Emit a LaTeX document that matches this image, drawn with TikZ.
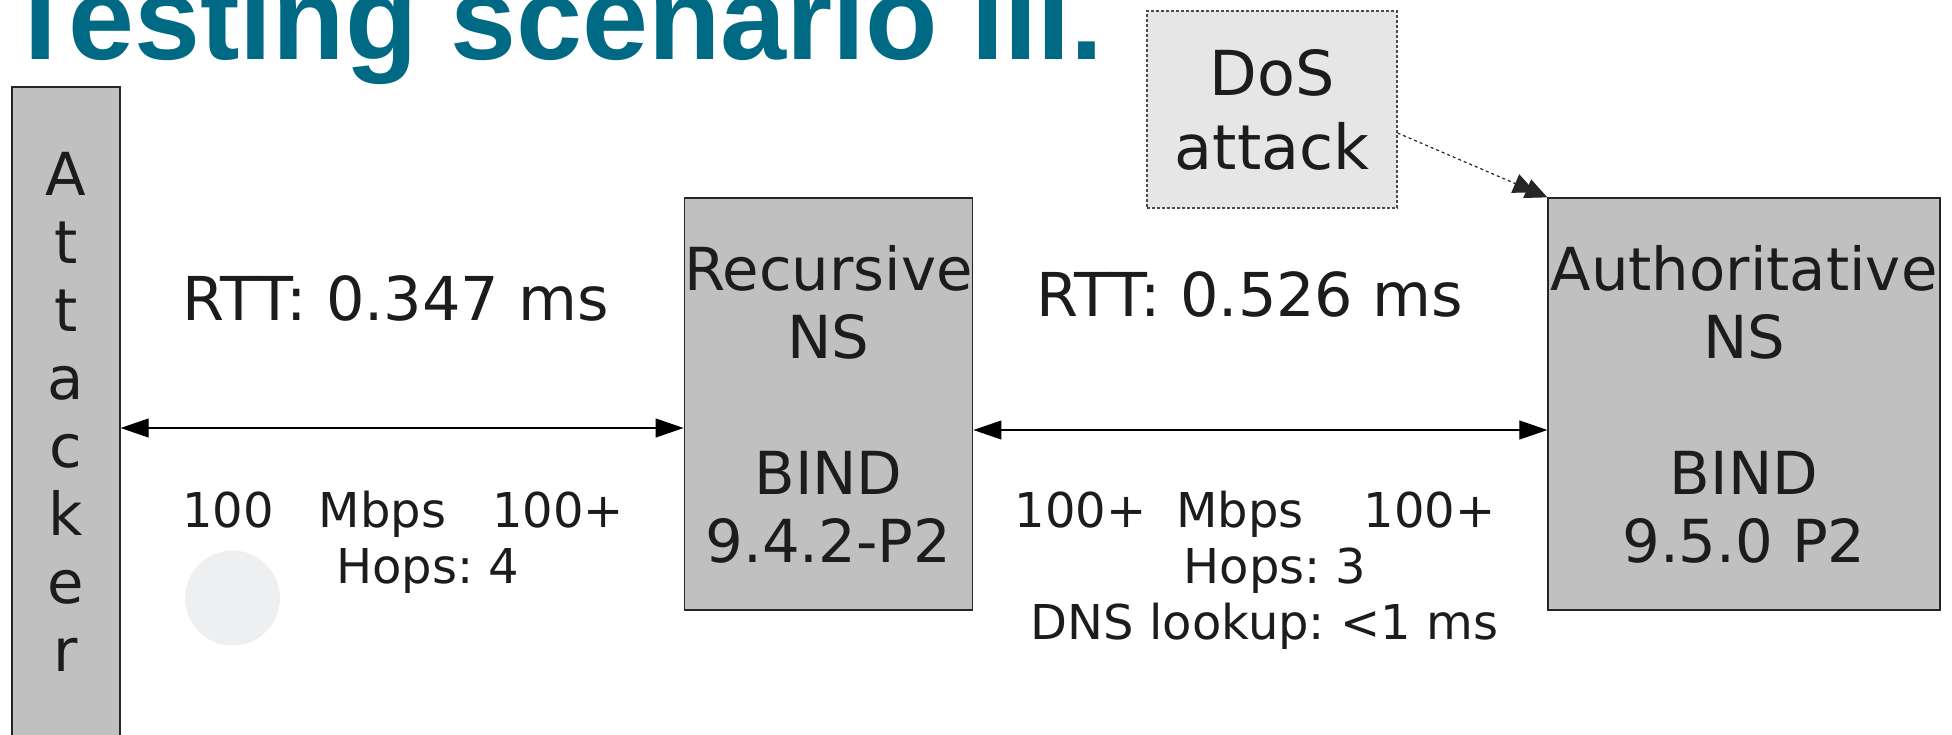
\documentclass[tikz,border=0pt]{standalone}
\usepackage{fontspec}
\setmainfont{DejaVu Sans}
\newfontfamily\titlefont{Liberation Sans}
\usetikzlibrary{arrows.meta,calc}
\definecolor{titleteal}{HTML}{006A84}
\definecolor{boxgray}{HTML}{C0C0C0}
\definecolor{dosgray}{HTML}{E6E6E6}
\definecolor{inkgray}{HTML}{1C1C1C}
\definecolor{dotgray}{HTML}{EEEFF1}
\begin{document}
\frenchspacing
\begin{tikzpicture}[x=1pt,y=-1pt,
  server/.style={draw=black!85, line width=1.3pt, fill=boxgray, inner sep=0pt, align=center, text=inkgray, font=\fontsize{59.3}{68}\selectfont},
  link/.style={draw=black, line width=1.1pt, {Triangle[length=28pt,width=19pt]}-{Triangle[length=28pt,width=19pt]}},
  dosarrow/.style={draw=black!85, line width=1.2pt, dash pattern=on 3pt off 3pt, -{Triangle[length=22pt,width=20pt,sep=-9pt]Triangle[length=22pt,width=20pt]}},
  bigtxt/.style={text=inkgray, font=\fontsize{60.5}{68}\selectfont, inner sep=0pt, anchor=base},
  smalltxt/.style={text=inkgray, font=\fontsize{48}{56}\selectfont, inner sep=0pt, anchor=base},
]
\useasboundingbox (0,0) rectangle (1952,734);
\node[anchor=base west, inner sep=0pt, text=titleteal, font=\titlefont\bfseries\fontsize{118.6}{120}\selectfont] (title) at (4.5,59) {Testing scenario III.};

\node[server, minimum width=108pt, minimum height=650pt] (att) at (66,412) {A\\t\\t\\a\\c\\k\\e\\r};
\node[server, minimum width=287pt, minimum height=412pt] (rec) at (828.5,404) {Recursive\\NS\\[68pt]BIND\\9.4.2-P2};
\node[server, minimum width=392pt, minimum height=412pt] (auth) at (1744,404) {Authoritative\\NS\\[68pt]BIND\\9.5.0 P2};
\node[draw=black!70, dash pattern=on 3pt off 2pt, line width=1.2pt, fill=dosgray, minimum width=250pt, minimum height=197pt, inner sep=0pt, align=center, text=inkgray, font=\fontsize{62}{74}\selectfont] (dos) at (1272,109.5) {DoS\\attack};

\node[bigtxt] (rtt1) at (396,320) {RTT: 0.347 ms};
\node[bigtxt] (rtt2) at (1250,316) {RTT: 0.526 ms};

\node[smalltxt] (bw1) at (403,527) {100\hspace{45pt}Mbps\hspace{46pt}100+};
\node[smalltxt] (hop1) at (427.5,583) {Hops: 4};
\node[smalltxt] (bw2) at (1255,527) {100+\hspace{30pt}Mbps\hspace{60pt}100+};
\node[smalltxt] (hop2) at (1275,583) {Hops: 3};
\node[smalltxt] (dns) at (1264.5,639) {DNS lookup: <1 ms};

\node[circle, fill=dotgray, minimum size=95pt, inner sep=0pt] (dot) at (232.5,598) {};

\coordinate (a1) at ($(rec.west)+(0,24)$);
\coordinate (a2) at ($(rec.east)+(0,26)$);
\draw[link] (a1 -| att.east) -- (a1);
\draw[link] (a2) -- (a2 -| auth.west);
\draw[dosarrow] ($(dos.east)+(0,23.5)$) -- (auth.north west);
\end{tikzpicture}
\end{document}
